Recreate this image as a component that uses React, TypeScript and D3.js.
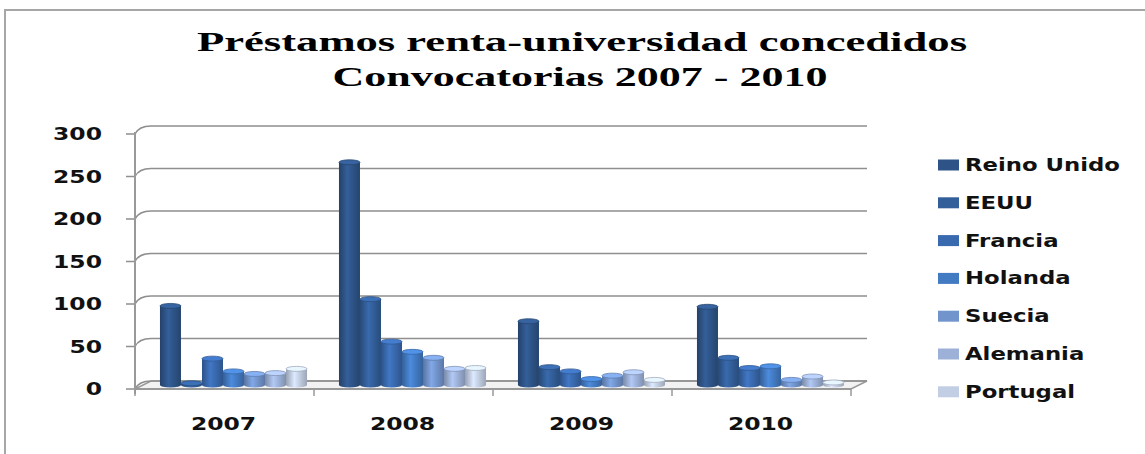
import React from "react";
import * as d3 from "d3";

const years = ["2007", "2008", "2009", "2010"];
const countries = ["Reino Unido", "EEUU", "Francia", "Holanda", "Suecia", "Alemania", "Portugal"];
const reinoUnido = [93, 262, 75, 92];
const eeuu = [2, 101, 21, 32];
const francia = [31, 51, 16, 20];
const holanda = [16, 39, 7, 22];
const suecia = [13, 32, 11, 6];
const alemania = [14, 19, 15, 10];
const portugal = [19, 20, 6, 3];
const yTicks = [0, 50, 100, 150, 200, 250, 300];
const seriesValues = [reinoUnido, eeuu, francia, holanda, suecia, alemania, portugal];
const colors = ["#2e5487", "#325e99", "#3969ae", "#437bc3", "#7294cc", "#9db1d8", "#c2cee3"];

const W = 1145, H = 454;
const DX = 16, DY = -8; // back-wall depth offset
const SX = 1.38; // horizontal stretch of label text

export default function App() {
  const x0 = d3.scaleBand<string>().domain(years).range([135, 851]).padding(0);
  const x1 = d3.scaleBand<string>().domain(countries).range([0, x0.bandwidth()]).paddingInner(0).paddingOuter(0.76);
  const y = d3.scaleLinear().domain([0, 300]).range([389, 134]);
  const bw = x1.bandwidth();
  const labelFont = "'DejaVu Sans', Verdana, sans-serif";

  return (
    <svg width={W} height={H} style={{ position: "absolute", left: 0, top: 0, background: "#fff" }}>
      <defs>
        {colors.map((c, i) => {
          const base = d3.color(c)!;
          return (
            <linearGradient key={i} id={`g${i}`} x1="0" x2="1" y1="0" y2="0">
              <stop offset="0" stopColor={base.darker(0.7).toString()} />
              <stop offset="0.4" stopColor={base.brighter(0.35).toString()} />
              <stop offset="1" stopColor={base.darker(0.6).toString()} />
            </linearGradient>
          );
        })}
      </defs>
      <rect x={5} y={10} width={1160} height={470} fill="#fff" stroke="#a6a6a6" strokeWidth={2} />

      {/* Title */}
      <g fontFamily="'Liberation Serif', 'Times New Roman', serif" fontWeight="bold" fill="#000" fontSize={28}>
        <text x={582} y={51} textAnchor="middle" textLength={770} lengthAdjust="spacingAndGlyphs">Préstamos renta-universidad concedidos</text>
        <text x={580} y={86} textAnchor="middle" textLength={495} lengthAdjust="spacingAndGlyphs">Convocatorias 2007 - 2010</text>
      </g>

      {/* Floor */}
      <path d={`M135,389 L851,389 L${851 + DX},${389 + DY} L${135 + DX},${389 + DY} Z`} fill="#f2f2f2" stroke="#9a9a9a" strokeWidth={1.5} />

      {/* Gridlines */}
      {yTicks.map((t) => {
        const yy = y(t);
        return (
          <g key={t}>
            <path d={`M126,${yy} L135,${yy} Q${139},${yy + DY} ${135 + DX},${yy + DY} L${851 + DX},${yy + DY}`} fill="none" stroke="#8f8f8f" strokeWidth={1.6} />
            <text transform={`translate(102,${yy + 6}) scale(${SX},1)`} textAnchor="end" fontFamily={labelFont} fontWeight="bold" fontSize={17} fill="#111">{t}</text>
          </g>
        );
      })}
      {/* left wall front edge */}
      <line x1={135} x2={135} y1={y(300) - 2} y2={394} stroke="#999" strokeWidth={2} />
      {/* floor front */}
      <line x1={135} x2={851} y1={389} y2={389} stroke="#999" strokeWidth={2} />
      {/* category ticks */}
      {[...years.map((d) => x0(d)!), 851].map((xx, i) => (
        <line key={i} x1={xx} x2={xx} y1={389} y2={396} stroke="#999" strokeWidth={1.5} />
      ))}

      {/* Bars */}
      {years.map((yr, yi) => (
        <g key={yr}>
          {countries.map((c, ci) => {
            const v = seriesValues[ci][yi];
            const bx = x0(yr)! + x1(c)! + DX / 2 + 1;
            const top = y(v) + DY / 2;
            const bottom = y(0) + DY / 2;
            const h = Math.max(0, bottom - top);
            const base = d3.color(colors[ci])!;
            return (
              <g key={c}>
                <rect x={bx} y={top} width={bw} height={h} fill={`url(#g${ci})`} />
                <ellipse cx={bx + bw / 2} cy={bottom} rx={bw / 2} ry={2.5} fill={`url(#g${ci})`} />
                <ellipse cx={bx + bw / 2} cy={top} rx={bw / 2} ry={2.5} fill={base.brighter(0.5).toString()} stroke={base.darker(0.5).toString()} strokeWidth={0.8} />
              </g>
            );
          })}
        </g>
      ))}

      {/* Category labels */}
      {years.map((yr) => (
        <text key={yr} transform={`translate(${x0(yr)! + x0.bandwidth() / 2 - 1},430) scale(${SX},1)`} textAnchor="middle" fontFamily={labelFont} fontWeight="bold" fontSize={17} fill="#111">{yr}</text>
      ))}

      {/* Legend */}
      {countries.map((c, i) => {
        const cy = 165 + i * 37.8;
        return (
          <g key={c}>
            <rect x={938} y={cy - 5.5} width={21} height={11} fill={colors[i]} />
            <text transform={`translate(965,${cy + 6}) scale(1.34,1)`} fontFamily={labelFont} fontWeight="bold" fontSize={17} fill="#111">{c}</text>
          </g>
        );
      })}
    </svg>
  );
}
